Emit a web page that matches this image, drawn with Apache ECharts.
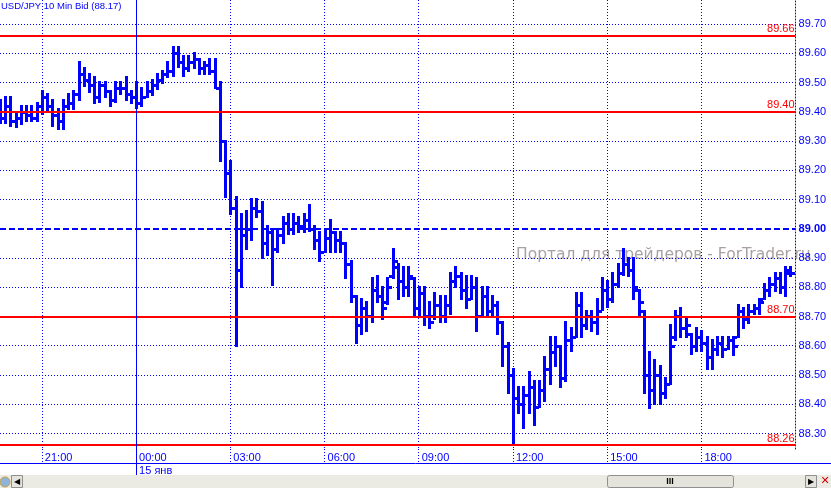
<!DOCTYPE html>
<html><head><meta charset="utf-8">
<script src="https://cdn.jsdelivr.net/npm/echarts@6/dist/echarts.min.js"></script>
<style>html,body{margin:0;padding:0;background:#fff}#c{width:831px;height:488px}</style>
</head><body><div id="c"></div>
<script>
// ---- data (10-minute bars, 14 Jan 19:40 .. 15 Jan 20:50) ----
const startDay = 14, startHour = 19, startMinute = 40, stepMinutes = 10, categoryCount = 153;
const opens = [
89.40,89.38,89.42,89.37,89.38,89.40,89.39,89.38,
89.42,89.45,89.42,89.39,89.37,89.42,89.43,89.46,89.53,89.51,89.49,89.45,89.49,89.47,89.44,89.48,89.48,89.46,
89.45,89.43,89.45,89.47,89.49,89.51,89.53,89.54,89.60,89.57,89.55,89.57,89.58,89.55,89.56,89.54,89.48,89.30,
89.19,89.07,88.86,88.98,89.00,89.07,89.06,88.95,88.99,88.93,88.98,89.02,89.00,89.02,89.01,89.03,89.00,88.96,
88.92,88.97,88.99,88.96,88.95,88.88,88.77,88.67,88.73,88.70,88.79,88.77,88.75,88.84,88.87,88.82,88.80,88.83,
88.73,88.78,88.70,88.70,88.74,88.70,88.74,88.82,88.84,88.79,88.76,88.80,88.70,88.77,88.72,88.74,88.68,88.60,
88.50,88.42,88.40,88.43,88.46,88.39,88.45,88.52,88.58,88.60,88.49,88.62,88.63,88.74,88.67,88.70,88.68,88.72,
88.79,88.76,88.81,88.85,88.88,88.86,88.79,88.72,88.50,88.45,88.50,88.44,88.47,88.63,88.70,88.66,88.64,88.60,
88.63,88.61,88.56,88.59,88.61,88.59,88.62,88.63,88.72,88.69,88.72,88.73,88.76,88.79,88.81,88.83,88.80,88.86];
const highs = [
89.44,89.45,89.45,89.40,89.42,89.42,89.42,89.43,
89.47,89.46,89.44,89.41,89.44,89.46,89.47,89.57,89.55,89.53,89.52,89.50,89.50,89.47,89.50,89.50,89.52,89.47,
89.50,89.48,89.50,89.51,89.53,89.54,89.57,89.62,89.62,89.59,89.59,89.60,89.58,89.57,89.58,89.58,89.50,89.30,
89.23,89.11,89.05,89.06,89.10,89.10,89.09,89.01,89.00,89.00,89.04,89.05,89.05,89.04,89.05,89.08,89.01,88.99,
89.00,89.03,88.99,88.99,88.95,88.89,88.77,88.76,88.75,88.83,88.84,88.80,88.83,88.93,88.88,88.87,88.87,88.83,
88.80,88.80,88.75,88.78,88.77,88.77,88.85,88.87,88.85,88.84,88.84,88.83,88.80,88.80,88.77,88.75,88.68,88.61,
88.52,88.46,88.46,88.51,88.48,88.48,88.56,88.63,88.63,88.60,88.68,88.66,88.78,88.78,88.72,88.72,88.76,88.83,
88.82,88.85,88.88,88.93,88.90,88.90,88.79,88.72,88.58,88.55,88.53,88.49,88.67,88.72,88.73,88.69,88.64,88.66,
88.65,88.63,88.62,88.63,88.63,88.63,88.63,88.74,88.73,88.74,88.74,88.76,88.81,88.83,88.85,88.85,88.87,88.87];
const lows = [
89.36,89.36,89.35,89.35,89.36,89.37,89.37,89.37,
89.39,89.40,89.35,89.34,89.34,89.41,89.41,89.44,89.49,89.47,89.43,89.43,89.45,89.42,89.43,89.46,89.44,89.43,
89.41,89.42,89.45,89.46,89.48,89.50,89.52,89.52,89.55,89.52,89.54,89.55,89.53,89.53,89.53,89.48,89.23,89.11,
89.05,88.60,88.80,88.93,88.96,89.04,88.90,88.91,88.81,88.92,88.95,88.98,88.98,88.99,88.99,88.99,88.93,88.89,
88.92,88.92,88.92,88.92,88.83,88.75,88.61,88.64,88.65,88.68,88.75,88.69,88.74,88.83,88.76,88.77,88.77,88.70,
88.70,88.67,88.66,88.69,88.68,88.68,88.71,88.80,88.76,88.73,88.76,88.65,88.70,88.70,88.70,88.64,88.53,88.44,
88.26,88.37,88.32,88.37,88.33,88.39,88.41,88.47,88.53,88.46,88.48,88.58,88.63,88.63,88.66,88.65,88.64,88.72,
88.73,88.75,88.80,88.84,88.84,88.76,88.70,88.44,88.39,88.40,88.40,88.42,88.47,88.62,88.63,88.63,88.57,88.58,
88.58,88.52,88.52,88.57,88.56,88.59,88.57,88.63,88.66,88.68,88.71,88.71,88.76,88.77,88.79,88.78,88.77,88.84];
const closes = [
89.38,89.42,89.37,89.38,89.40,89.39,89.38,89.42,
89.45,89.42,89.39,89.37,89.42,89.43,89.46,89.53,89.51,89.49,89.45,89.49,89.47,89.44,89.48,89.48,89.46,89.45,
89.43,89.45,89.47,89.49,89.51,89.53,89.54,89.60,89.57,89.55,89.57,89.58,89.55,89.56,89.54,89.48,89.30,89.19,
89.07,88.86,88.98,89.00,89.07,89.06,88.95,88.99,88.93,88.98,89.02,89.00,89.02,89.01,89.03,89.00,88.96,88.92,
88.97,88.99,88.96,88.95,88.88,88.77,88.67,88.73,88.70,88.79,88.77,88.73,88.80,88.89,88.82,88.80,88.84,88.73,
88.78,88.70,88.68,88.74,88.70,88.74,88.82,88.84,88.79,88.76,88.80,88.70,88.77,88.72,88.74,88.68,88.60,88.50,
88.42,88.40,88.43,88.46,88.39,88.45,88.52,88.58,88.60,88.49,88.62,88.63,88.74,88.67,88.70,88.68,88.72,88.79,
88.76,88.81,88.85,88.88,88.86,88.80,88.75,88.50,88.45,88.50,88.44,88.47,88.60,88.70,88.66,88.67,88.60,88.63,
88.61,88.56,88.59,88.61,88.59,88.62,88.60,88.72,88.69,88.72,88.73,88.75,88.79,88.81,88.83,88.80,88.85,88.85];
const yTicks = ['88.30','88.40','88.50','88.60','88.70','88.80','88.90','89.10','89.20','89.30','89.40','89.50','89.60','89.70'];
const redLevels = ['89.66','89.40','88.70','88.26'];
const pivotLevel = '89.00';
const titleText = 'USD/JPY 10 Min Bid (88.17)';
const dayLabel = '15 янв';
const watermarkText = 'Портал для трейдеров - ForTrader.ru';

// ---- build ----
const pad = n => (n < 10 ? '0' : '') + n;
const categories = [];
for (let i = 0; i < categoryCount; i++) {
  const t = new Date(2010, 0, startDay, startHour, startMinute + stepMinutes * i);
  categories.push(pad(t.getDate()) + ' ' + pad(t.getHours()) + ':' + pad(t.getMinutes()));
}
const isMajor = i => { const h = categories[i].slice(3); return i < categoryCount - 1 && /^(00|03|06|09|12|15|18|21):00$/.test(h); };
const dayIndex = categories.findIndex(c => c === '15 00:00');
const ohlc = opens.map((o, i) => [i, o, closes[i], lows[i], highs[i]]);

const BLUE = '#0000ff', RED = '#ff0000', FONT = 'Liberation Sans, Arial, sans-serif';
const markData = [];
yTicks.forEach(v => markData.push({
  yAxis: +v, lineStyle: {color: BLUE, type: [1, 2], width: 1},
  label: {show: true, position: 'end', formatter: v, color: BLUE, fontSize: 11, fontFamily: FONT, distance: 3}
}));
markData.push({
  yAxis: +pivotLevel, lineStyle: {color: BLUE, type: [6, 3], width: 2},
  label: {show: true, position: 'end', formatter: pivotLevel, color: BLUE, fontSize: 11, fontWeight: 'bold', fontFamily: FONT, distance: 3}
});
redLevels.forEach(v => markData.push({
  yAxis: +v, lineStyle: {color: RED, type: 'solid', width: 2},
  label: {show: true, position: 'insideEndTop', formatter: v, color: RED, fontSize: 11, fontFamily: FONT, distance: 1}
}));
markData.push({xAxis: categories[dayIndex], lineStyle: {color: BLUE, type: 'solid', width: 1}, label: {show: false}});

const chart = echarts.init(document.getElementById('c'), null, {renderer: 'canvas'});
chart.setOption({
  animation: false,
  backgroundColor: '#ffffff',
  title: {text: titleText, left: 1, top: 1, padding: 0,
    textStyle: {fontSize: 9.5, fontWeight: 'normal', color: BLUE, fontFamily: FONT}},
  grid: {left: -1, right: 35.4, top: 0, bottom: 39, containLabel: false},
  xAxis: [{
    type: 'category', data: categories, boundaryGap: false, position: 'bottom',
    axisLine: {show: false},
    axisTick: {show: true, interval: i => isMajor(i) && i !== dayIndex, length: 14, lineStyle: {color: BLUE, type: [1, 2]}},
    axisLabel: {interval: i => isMajor(i), formatter: v => v.slice(3), align: 'left', margin: 3,
      padding: [0, 0, 0, 3], color: BLUE, fontSize: 11, fontFamily: FONT},
    splitLine: {show: true, interval: i => isMajor(i) && i !== dayIndex, lineStyle: {color: BLUE, type: [1, 2], width: 1}}
  }, {
    type: 'category', data: categories, boundaryGap: false, position: 'bottom',
    axisLine: {show: false},
    axisTick: {show: true, interval: i => i === dayIndex, length: 26, lineStyle: {color: BLUE, width: 1}},
    axisLabel: {interval: i => i === dayIndex, formatter: () => dayLabel, align: 'left', margin: 16,
      padding: [0, 0, 0, 3], color: BLUE, fontSize: 11, fontFamily: FONT},
    splitLine: {show: false}
  }],
  yAxis: {
    type: 'value', position: 'right', min: 88.247, max: 89.782, scale: true,
    axisLine: {show: true, lineStyle: {color: BLUE, type: [1, 2], width: 1}},
    axisTick: {show: false}, axisLabel: {show: false}, splitLine: {show: false}
  },
  graphic: [
    {type: 'text', left: 516, top: 247, z: 0, style: {text: watermarkText, fill: '#a9a1a1', font: '15.5px "DejaVu Sans", sans-serif'}},
    {type: 'line', shape: {x1: 0, y1: 463.5, x2: 831, y2: 463.5}, style: {stroke: BLUE, lineWidth: 1}},
    {type: 'rect', shape: {x: 0, y: 475, width: 831, height: 13}, style: {fill: '#ecebe3'}},
    {type: 'rect', shape: {x: 607.5, y: 475.5, width: 126, height: 12, r: 2}, style: {fill: '#e4e4dc', stroke: '#8f8f8f', lineWidth: 1}},
    {type: 'text', x: 670, y: 481.5, style: {text: 'III', fill: '#000', font: 'bold 9px sans-serif', align: 'center', verticalAlign: 'middle'}},
    {type: 'rect', shape: {x: 11.5, y: 475.5, width: 11, height: 12}, style: {fill: '#e4e4dc', stroke: '#8f8f8f', lineWidth: 1}},
    {type: 'text', x: 17, y: 481.5, style: {text: '◀', fill: '#000', font: '8px "DejaVu Sans"', align: 'center', verticalAlign: 'middle'}},
    {type: 'circle', shape: {cx: 5, cy: 482, r: 5}, style: {fill: '#8fb3d9', stroke: '#c9a040'}},
    {type: 'rect', shape: {x: 805.5, y: 475.5, width: 11, height: 12}, style: {fill: '#e4e4dc', stroke: '#8f8f8f', lineWidth: 1}},
    {type: 'text', x: 811, y: 481.5, style: {text: '▶', fill: '#000', font: '8px "DejaVu Sans"', align: 'center', verticalAlign: 'middle'}},
    {type: 'text', x: 825, y: 481.5, style: {text: '✕', fill: '#cc0000', font: 'bold 11px "DejaVu Sans"', align: 'center', verticalAlign: 'middle'}}
  ],
  series: [{
    type: 'line', data: [], z: 1, silent: true,
    markLine: {symbol: ['none', 'none'], silent: true, animation: false, precision: 2, data: markData}
  }, {
    type: 'custom', z: 3, clip: true, data: ohlc, encode: {x: 0, y: [1, 2, 3, 4]},
    renderItem: function (params, api) {
      const i = api.value(0);
      const pH = api.coord([i, api.value(4)]);
      const pL = api.coord([i, api.value(3)]);
      const pO = api.coord([i, api.value(1)]);
      const pC = api.coord([i, api.value(2)]);
      const x = Math.round(pH[0]);
      const st = {fill: BLUE};
      return {type: 'group', children: [
        {type: 'rect', shape: {x: x - 1, y: Math.round(pH[1]) - 1, width: 3, height: Math.round(pL[1] - pH[1]) + 2}, style: st},
        {type: 'rect', shape: {x: x - 4, y: Math.round(pO[1]) - 1, width: 3, height: 3}, style: st},
        {type: 'rect', shape: {x: x + 2, y: Math.round(pC[1]) - 1, width: 3, height: 3}, style: st}
      ]};
    }
  }]
});
</script></body></html>
